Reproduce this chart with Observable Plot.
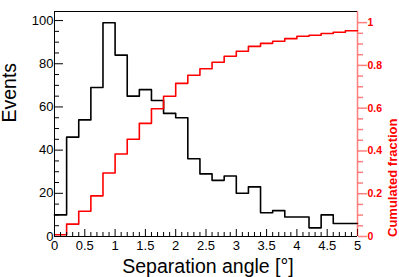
<!DOCTYPE html>
<html><head><meta charset="utf-8">
<script src="https://cdn.jsdelivr.net/npm/d3@7"></script>
<script src="https://cdn.jsdelivr.net/npm/@observablehq/plot@0.6"></script>
<style>body{margin:0;background:#fff} svg{display:block}</style>
</head><body><div id="chart"></div>
<script>
const binEdges = [0,0.2,0.4,0.6,0.8,1,1.2,1.4,1.6,1.8,2,2.2,2.4,2.6,2.8,3,3.2,3.4,3.6,3.8,4,4.2,4.4,4.6,4.8,5];
const events = [10,46,54,69,99,84,65,68,63,57,55,36,29,26,28,20,23,11,12,9,9,4,10,6,6];
const cumulated = [0.008,0.058,0.118,0.190,0.297,0.386,0.455,0.529,0.597,0.656,0.716,0.754,0.784,0.815,0.843,0.866,0.889,0.903,0.913,0.925,0.936,0.941,0.949,0.955,0.962];
const xMajorTicks = [0,0.5,1,1.5,2,2.5,3,3.5,4,4.5,5];
const xMinorTicks = [0.1,0.2,0.3,0.4,0.6,0.7,0.8,0.9,1.1,1.2,1.3,1.4,1.6,1.7,1.8,1.9,2.1,2.2,2.3,2.4,2.6,2.7,2.8,2.9,3.1,3.2,3.3,3.4,3.6,3.7,3.8,3.9,4.1,4.2,4.3,4.4,4.6,4.7,4.8,4.9];
const yMajorTicks = [0,20,40,60,80,100];
const yMinorTicks = [5,10,15,25,30,35,45,50,55,65,70,75,85,90,95];
const y2MajorTicks = [0,0.2,0.4,0.6,0.8,1];
const y2MinorTicks = [0.05,0.1,0.15,0.25,0.3,0.35,0.45,0.5,0.55,0.65,0.7,0.75,0.85,0.9,0.95];
const yMax = 104.2, y2Max = 1.052;
const k = yMax / y2Max;

const W = 399, H = 277, mL = 54, mR = 42, mT = 11, mB = 41;
const iw = W - mL - mR, ih = H - mT - mB;

function steps(vals, scale = 1) {
  const pts = [];
  vals.forEach((v, i) => { pts.push({x: binEdges[i], y: v * scale}, {x: binEdges[i + 1], y: v * scale}); });
  return pts;
}
const fmt = d3.format("~g");
const pink = "#ff0000";

const chart = Plot.plot({
  width: W, height: H,
  marginLeft: mL, marginRight: mR, marginTop: mT, marginBottom: mB,
  style: {fontFamily: "'Liberation Sans', Arial, Helvetica, sans-serif", fontSize: "13px", background: "#fff", overflow: "visible"},
  x: {domain: [0, 5], axis: null},
  y: {domain: [0, yMax], axis: null},
  marks: [
    Plot.line(steps(events), {x: "x", y: "y", stroke: "#000", strokeWidth: 1.6}),
    Plot.line(steps(cumulated, k), {x: "x", y: "y", stroke: "#ff0000", strokeWidth: 1.6}),
    // frame
    Plot.ruleX([0], {stroke: "#000", strokeWidth: 1}),
    Plot.ruleY([0], {stroke: "#000", strokeWidth: 1}),
    Plot.ruleY([yMax], {stroke: "#000", strokeWidth: 1}),
    // inner ticks x
    Plot.ruleX(xMinorTicks, {x: d => d, insetTop: ih - 4, stroke: "#000"}),
    Plot.ruleX(xMajorTicks, {x: d => d, insetTop: ih - 7, stroke: "#000"}),
    // inner ticks y
    Plot.ruleY(yMinorTicks, {y: d => d, insetRight: iw - 5, stroke: "#000"}),
    Plot.ruleY(yMajorTicks, {y: d => d, insetRight: iw - 9, stroke: "#000"}),
    Plot.axisX(xMajorTicks, {tickSize: 0, tickPadding: 4, tickFormat: d => fmt(d), fontSize: 13, fill: "#000", label: null}),
    Plot.axisY(yMajorTicks, {anchor: "left", tickSize: 0, tickPadding: 1, fontSize: 13, fill: "#000", label: null}),
    // right red axis
    Plot.ruleX([5], {stroke: pink, strokeOpacity: 0.5, strokeWidth: 1.5}),
    Plot.axisY(y2MinorTicks.map(t => t * k), {anchor: "right", tickSize: 5, tickFormat: () => "", stroke: pink, strokeOpacity: 0.5, strokeWidth: 1.5, label: null}),
    Plot.axisY(y2MajorTicks.map(t => t * k), {anchor: "right", tickSize: 9, tickPadding: 1, tickFormat: d => fmt(Math.round(d / k * 100) / 100), stroke: pink, strokeOpacity: 0.5, strokeWidth: 1.5, fill: "#ff0000", fontWeight: "bold", fontSize: 10.5, label: null}),
    // titles
    Plot.text(["Separation angle [°]"], {frameAnchor: "bottom", dx: 2, dy: 30, lineAnchor: "middle", fontSize: 19.5, fill: "#000"}),
    Plot.text(["Events"], {frameAnchor: "left", dx: -45, dy: -1.5, rotate: -90, lineAnchor: "middle", fontSize: 19.5, fill: "#000"}),
    Plot.text(["Cumulated fraction"], {frameAnchor: "right", dx: 35.5, dy: -5.5, rotate: -90, lineAnchor: "middle", fontSize: 13, fontWeight: "bold", fill: "#ff0000"})
  ]
});
document.getElementById("chart").appendChild(chart);
</script>
</body></html>
